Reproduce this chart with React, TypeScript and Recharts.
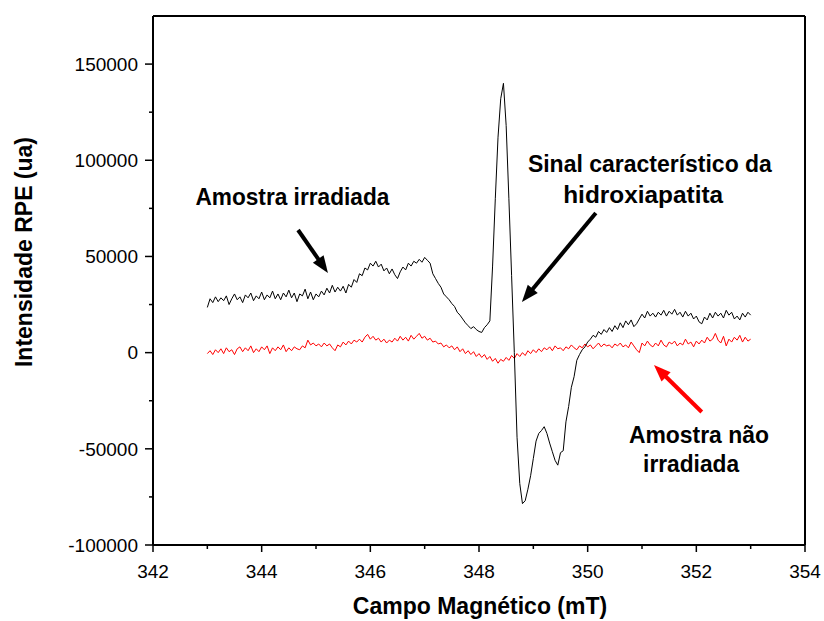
import React from 'react';
import { LineChart, Line, XAxis, YAxis } from 'recharts';

// magnetic field sampling: 343.00 .. 353.00 mT, 0.05 mT steps
const FIELD_START = 343;
const FIELD_STEP = 0.05;

// EPR intensity (a.u.) of the irradiated sample
const irradiated = [
    23500, 28000, 26000, 29000, 26500, 28500, 27000, 29500, 25000, 28000,
    30500, 27500, 29000, 26000, 30000, 28500, 31000, 27000, 29500, 28000,
    31500, 27500, 30000, 28500, 32000, 28000, 30500, 27500, 31000, 29000,
    32500, 28500, 31000, 26500, 30500, 29500, 33000, 28000, 31500, 27500,
    30500, 29000, 32000, 30000, 33500, 31000, 35000, 31500, 34000, 32000,
    34500, 31000, 35500, 34000, 38000, 36500, 41000, 40000, 44000, 43000,
    46500, 45000, 47500, 44500, 46000, 42500, 44000, 41000, 43500, 40500,
    38500, 42000, 44500, 43000, 46500, 45000, 47500, 46500, 48500, 47000,
    49500, 48000, 46500, 41000, 38500, 36000, 34000, 30500, 29000, 27500,
    25500, 24000, 21000, 19500, 17500, 15500, 14000, 12500, 13500, 12000,
    11000, 10500, 13000, 14500, 16500, 45000, 80000, 112000, 132000, 140000,
    118000, 80000, 40000, 0, -44000, -68000, -78500, -77000, -71000, -64000,
    -55000, -46000, -42000, -40500, -38500, -42000, -47000, -51500, -56000, -58500,
    -52000, -51000, -36000, -28000, -18000, -12500, -4000, -1000, 1500, 3000,
    5500, 7000, 9000, 8000, 11000, 9500, 12000, 10500, 13000, 11000,
    14000, 12000, 15500, 13000, 16500, 14500, 17000, 13500, 15000, 17500,
    20000, 18000, 21500, 19000, 20500, 18500, 21000, 19500, 22000, 19000,
    21500, 20000, 22500, 19500, 21000, 18500, 21500, 19000, 20500, 17500,
    19000, 16000, 15000, 18500, 17000, 20500, 18000, 21000, 19000, 20500,
    18000, 22000, 19500, 21000, 17500, 19000, 17000, 20500, 18500, 21000,
    19500,
];

// EPR intensity (a.u.) of the non-irradiated sample
const nonIrradiated = [
    -500, 1000, -1000, 1500, 0, 2000, -500, 2500, 500, 1500,
    -1000, 2000, 3000, 500, 2500, 1000, 3500, 0, 2000, 500,
    3000, 1500, 3500, -500, 2500, 1000, 3000, 1500, 4000, 500,
    2500, 1000, 3000, 2000, 1500, 3500, 2500, 6500, 4000, 5000,
    3500, 4500, 3000, 5000, 3500, 4500, 2500, 1000, 4000, 3000,
    5500, 4000, 6000, 4500, 6500, 5500, 7000, 5500, 8000, 9500,
    7000, 8500, 6500, 7500, 5500, 7000, 5000, 6500, 5500, 7500,
    6000, 8500, 6500, 8000, 6000, 9000, 7000, 8500, 10000, 7500,
    8500, 6500, 7500, 5500, 6000, 4500, 5000, 3000, 4000, 2500,
    3500, 1500, 3000, 500, 2000, -500, 1000, -1000, 500, -2000,
    -500, -2500, -1000, -3500, -2000, -4500, -3000, -5500, -3500, -4500,
    -2500, -4000, -1500, -3000, -500, -2000, 0, -1500, 1000, -500,
    1500, 0, 2000, 500, 2500, 1500, 3000, 1000, 3500, 2000,
    2500, 1000, 3000, 2000, 4000, 2500, 1500, 3500, 2500, 4500,
    3000, 4000, 2000, 3500, 5000, 3000, 4500, 3500, 4000, 2500,
    4500, 3500, 5000, 3000, 4000, 2500, 5500, 3500, 1500, 0,
    5000, 3500, 6000, 4000, 3000, 5000, 3500, 6500, 4000, 3000,
    5500, 4500, 6000, 3500, 5000, 4000, 7000, 4500, 5500, 3000,
    6000, 4500, 6500, 5000, 8000, 6000, 7000, 10000, 6500, 5000,
    8500, 3500, 7000, 5500, 8000, 6500, 9000, 5500, 8000, 6000,
    7000,
];

const fieldTicks = [342, 343, 344, 345, 346, 347, 348, 349, 350, 351, 352, 353, 354];
const fieldLabels = [342, 344, 346, 348, 350, 352, 354];
const intensityTicks = [-100000, -75000, -50000, -25000, 0, 25000, 50000, 75000, 100000, 125000, 150000];
const intensityLabels = [-100000, -50000, 0, 50000, 100000, 150000];

// annotation arrows in data units: [tail, tip] as [field, intensity]
const irradiatedArrow = [[344.67, 63750], [345.22, 41400]];
const signalArrow = [[350.15, 72600], [348.79, 26300]];
const nonIrradiatedArrow = [[352.1, -30860], [351.22, -6430]];

// annotation texts: start of baseline in data units, and drawn width in px
const noteTexts = ['Amostra irradiada', 'Sinal característico da', 'hidroxiapatita', 'Amostra não', 'irradiada'];
const noteAnchors = [[342.78, 76750], [348.9, 93900], [349.55, 77790], [350.76, -46975], [351.02, -62050]];
const noteWidths = [194, 244, 160, 140, 96];

const data = irradiated.map((v, i) => ({
    field: +(FIELD_START + i * FIELD_STEP).toFixed(2),
    irradiated: v,
    nonIrradiated: nonIrradiated[i],
}));

const W = 824;
const H = 621;
const PLOT_LEFT = 153;
const PLOT_TOP = 16;
const PLOT_W = 652;
const PLOT_H = 529;
const X_DOMAIN = [342, 354];
const Y_DOMAIN = [-100000, 175000];

const FONT = 'Arial, "Liberation Sans", sans-serif';

const toPx = ([fx, iy]: number[]) => [
    PLOT_LEFT + ((fx - X_DOMAIN[0]) / (X_DOMAIN[1] - X_DOMAIN[0])) * PLOT_W,
    PLOT_TOP + ((Y_DOMAIN[1] - iy) / (Y_DOMAIN[1] - Y_DOMAIN[0])) * PLOT_H,
];

const FieldTick = (props: any) => {
    const { x, y, payload } = props;
    const major = fieldLabels.includes(payload.value);
    return (
        <g>
            <line x1={x} y1={y} x2={x} y2={y + (major ? 7 : 4)} stroke="#000" strokeWidth={1.5} />
            {major && (
                <text x={x} y={y + 20} dy="0.71em" textAnchor="middle" fontFamily={FONT} fontSize={19} fill="#000">
                    {payload.value}
                </text>
            )}
        </g>
    );
};

const IntensityTick = (props: any) => {
    const { x, y, payload } = props;
    const major = intensityLabels.includes(payload.value);
    return (
        <g>
            <line x1={x - (major ? 8 : 4)} y1={y} x2={x} y2={y} stroke="#000" strokeWidth={1.5} />
            {major && (
                <text x={x - 15} y={y} dy="0.355em" textAnchor="end" fontFamily={FONT} fontSize={19} fill="#000">
                    {payload.value}
                </text>
            )}
        </g>
    );
};

const Arrow = ({ path, color }: { path: number[][]; color: string }) => {
    const [x1, y1] = toPx(path[0]);
    const [x2, y2] = toPx(path[1]);
    const len = Math.hypot(x2 - x1, y2 - y1);
    const ux = (x2 - x1) / len;
    const uy = (y2 - y1) / len;
    const head = 17;
    const half = 6.5;
    const bx = x2 - ux * head;
    const by = y2 - uy * head;
    const pts = `${x2},${y2} ${bx - uy * half},${by + ux * half} ${bx + uy * half},${by - ux * half}`;
    return (
        <g>
            <line x1={x1} y1={y1} x2={bx + ux * 2} y2={by + uy * 2} stroke={color} strokeWidth={4} />
            <polygon points={pts} fill={color} />
        </g>
    );
};

export default function App() {
    return (
        <div style={{ position: 'relative', width: W, height: H }}>
            {/* the figure uses the whole window, so drop the default body margin */}
            <style>{'body { margin: 0; }'}</style>
            <LineChart width={W} height={H} data={data} margin={{ top: PLOT_TOP, right: W - PLOT_LEFT - PLOT_W, bottom: 0, left: 0 }}>
                <XAxis
                    dataKey="field"
                    type="number"
                    domain={X_DOMAIN}
                    ticks={fieldTicks}
                    interval={0}
                    allowDataOverflow
                    height={H - PLOT_TOP - PLOT_H}
                    tickSize={0}
                    tickMargin={0}
                    tickLine={false}
                    tick={<FieldTick />}
                    axisLine={{ stroke: '#000', strokeWidth: 2 }}
                />
                <YAxis
                    type="number"
                    domain={Y_DOMAIN}
                    ticks={intensityTicks}
                    interval={0}
                    allowDataOverflow
                    width={PLOT_LEFT}
                    tickSize={0}
                    tickMargin={0}
                    tickLine={false}
                    tick={<IntensityTick />}
                    axisLine={{ stroke: '#000', strokeWidth: 2 }}
                />
                <Line type="linear" dataKey="nonIrradiated" stroke="#ff0000" strokeWidth={1} dot={false} isAnimationActive={false} />
                <Line type="linear" dataKey="irradiated" stroke="#000000" strokeWidth={1} dot={false} isAnimationActive={false} />
            </LineChart>
            <svg width={W} height={H} style={{ position: 'absolute', left: 0, top: 0, pointerEvents: 'none' }}>
                {/* top and right frame */}
                <line x1={PLOT_LEFT} y1={PLOT_TOP} x2={PLOT_LEFT + PLOT_W} y2={PLOT_TOP} stroke="#000" strokeWidth={2} />
                <line x1={PLOT_LEFT + PLOT_W} y1={PLOT_TOP} x2={PLOT_LEFT + PLOT_W} y2={PLOT_TOP + PLOT_H} stroke="#000" strokeWidth={2} />

                <text x={480} y={614} textAnchor="middle" fontFamily={FONT} fontWeight="bold" fontSize={23} fill="#000">
                    Campo Magnético (mT)
                </text>
                <text
                    transform="translate(32, 252) rotate(-90)"
                    textAnchor="middle"
                    fontFamily={FONT}
                    fontWeight="bold"
                    fontSize={23}
                    fill="#000"
                >
                    Intensidade RPE (ua)
                </text>

                {noteTexts.map((t, i) => {
                    const [x, y] = toPx(noteAnchors[i]);
                    return (
                        <text
                            key={t + i}
                            x={x}
                            y={y}
                            textLength={noteWidths[i]}
                            lengthAdjust="spacingAndGlyphs"
                            fontFamily={FONT}
                            fontWeight="bold"
                            fontSize={23}
                            fill="#000"
                        >
                            {t}
                        </text>
                    );
                })}

                <Arrow path={irradiatedArrow} color="#000" />
                <Arrow path={signalArrow} color="#000" />
                <Arrow path={nonIrradiatedArrow} color="#ff0000" />
            </svg>
        </div>
    );
}
